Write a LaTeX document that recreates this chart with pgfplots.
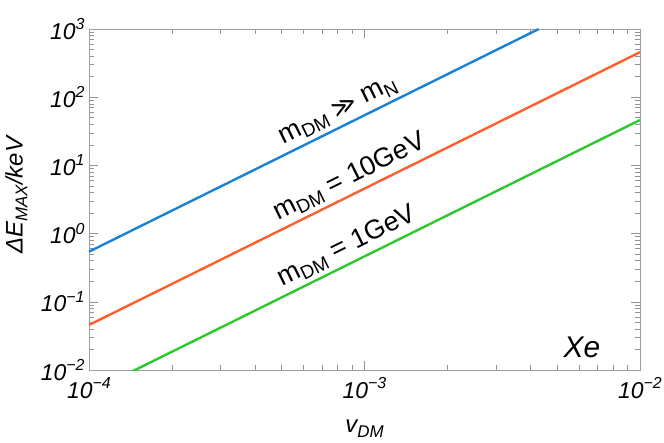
\documentclass[border=0pt]{standalone}
\usepackage{fontspec}
\setmainfont{Liberation Sans}
\newfontfamily\djv{DejaVu Sans}
\usepackage{pgfplots}
\pgfplotsset{compat=1.18}
\definecolor{cblue}{RGB}{25,130,215}
\definecolor{corange}{RGB}{255,95,45}
\definecolor{cgreen}{RGB}{45,200,45}
\newcommand\tl[1]{\textit{10\raisebox{0.42em}{\fontsize{16}{16}\selectfont #1}}}
\newcommand\lsub[1]{\raisebox{-0.2em}{\fontsize{17}{17}\selectfont #1}}
\newcommand\asub[1]{\raisebox{-0.17em}{\fontsize{19}{19}\selectfont #1}}
\begin{document}
\begin{tikzpicture}
\path[use as bounding box] (-89bp,-73bp) rectangle (575bp,370bp);
\begin{axis}[at={(0,0)}, anchor=south west, scale only axis,
  width=551bp, height=341bp,
  xmode=log, ymode=log, xmin=1e-4, xmax=1e-2, ymin=1e-2, ymax=1e3,
  axis line style={gray!75, line width=0.8pt},
  tick style={gray!85, line width=0.6pt},
  major tick length=9bp, minor tick length=5bp, tick align=inside,
  xtick={1e-4,1e-3,1e-2},
  xticklabels={\tl{−4},\tl{−3},\tl{−2}},
  minor xtick={2e-4,3e-4,4e-4,5e-4,6e-4,7e-4,8e-4,9e-4,2e-3,3e-3,4e-3,5e-3,6e-3,7e-3,8e-3,9e-3},
  ytick={1e-2,1e-1,1,10,100,1000},
  yticklabels={\tl{−2},\tl{−1},\tl{0},\tl{1},\tl{2},\tl{3}},
  minor ytick={2e-2,3e-2,4e-2,5e-2,6e-2,7e-2,8e-2,9e-2,2e-1,3e-1,4e-1,5e-1,6e-1,7e-1,8e-1,9e-1,2,3,4,5,6,7,8,9,20,30,40,50,60,70,80,90,200,300,400,500,600,700,800,900},
  tick label style={font=\fontsize{23}{23}\selectfont},
  xticklabel style={yshift=-4bp},
  yticklabel style={xshift=-1bp},
  xlabel={\textit{v\lsub{DM}}},
  ylabel={\textit{ΔE\lsub{MAX}/keV}},
  label style={font=\fontsize{24}{24}\selectfont},
  xlabel style={at={(axis description cs:0.5,-0.172)}, anchor=center},
  ylabel style={at={(axis description cs:-0.132,0.515)}, anchor=center, rotate=0},
  clip=true,
]
\addplot[cblue, line width=2.4pt] coordinates {(1e-4,0.543) (4.29e-3,1000)};
\addplot[corange, line width=2.4pt] coordinates {(1e-4,0.0457) (1e-2,457)};
\addplot[cgreen, line width=2.4pt] coordinates {(1e-4,0.00463) (1e-2,46.3)};
\node[rotate=26.3, anchor=south, inner ysep=5pt, font=\fontsize{27}{27}\selectfont] at (axis cs:8.5e-4,39.2) {m\asub{DM} {\djv\fontsize{24}{24}\selectfont ≫} m\asub{N}};
\node[rotate=26.3, anchor=south, inner ysep=5pt, font=\fontsize{27}{27}\selectfont] at (axis cs:9.4e-4,4.04) {m\asub{DM} = 10GeV};
\node[rotate=26.3, anchor=south, inner ysep=5pt, font=\fontsize{27}{27}\selectfont] at (axis cs:9.2e-4,0.392) {m\asub{DM} = 1GeV};
\node[font=\fontsize{30}{30}\selectfont\itshape] at (axis cs:6.16e-3,0.0217) {Xe};
\end{axis}
\end{tikzpicture}
\end{document}
